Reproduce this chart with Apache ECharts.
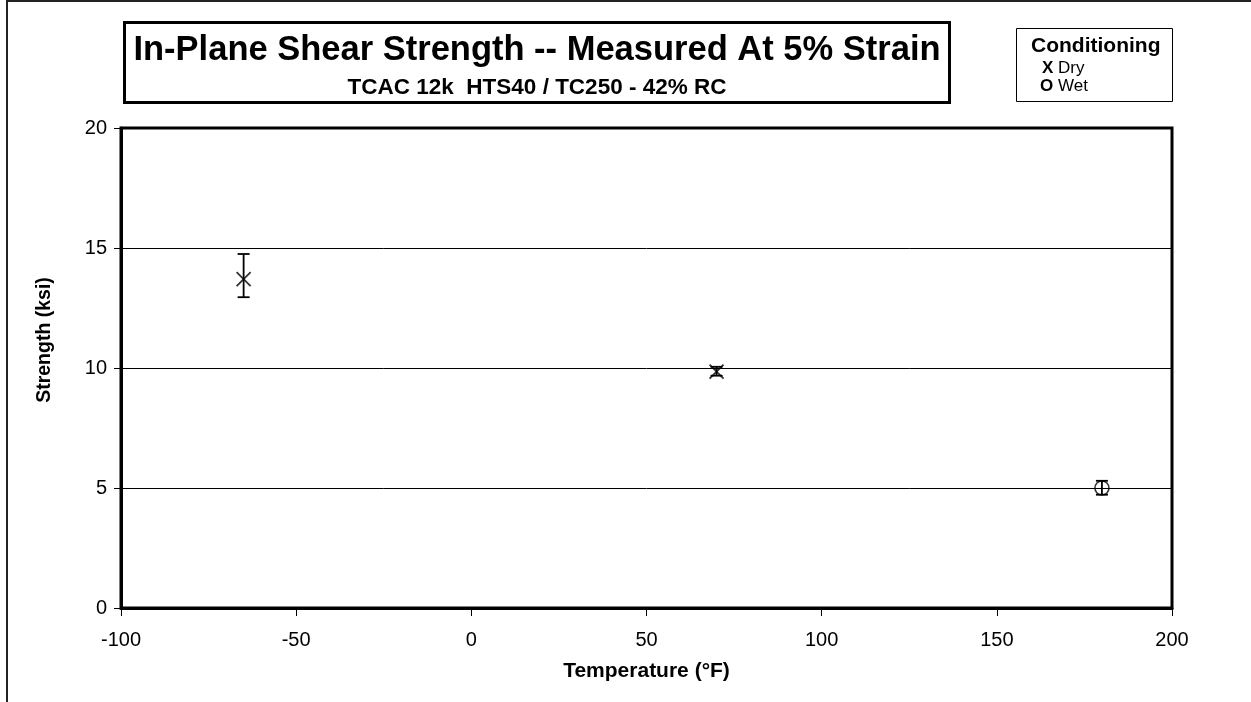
<!DOCTYPE html>
<html>
<head>
<meta charset="utf-8">
<script src="https://cdn.jsdelivr.net/npm/echarts@6/dist/echarts.min.js"></script>
<style>
html,body{margin:0;padding:0;background:#fff;}
#chart{width:1251px;height:702px;}
</style>
</head>
<body>
<div id="chart"></div>
<script>
// ---- data ----
const titleText = 'In-Plane Shear Strength -- Measured At 5% Strain';
const subtitleText = 'TCAC 12k  HTS40 / TC250 - 42% RC';
const xTicks = { min: -100, max: 200, interval: 50 };
const yTicks = { min: 0, max: 20, interval: 5 };
const dryTemp = [-65, 70];
const dryMean = [13.7, 9.85];
const dryLow = [12.95, 9.68];
const dryHigh = [14.75, 10.05];
const wetTemp = [180];
const wetMean = [5.0];
const wetLow = [4.72];
const wetHigh = [5.3];

const FONT = '"Liberation Sans", Arial, sans-serif';
const chart = echarts.init(document.getElementById('chart'), null, { renderer: 'canvas' });

const dryPts = dryTemp.map((t, i) => [t, dryMean[i]]);
const wetPts = wetTemp.map((t, i) => [t, wetMean[i]]);
const dryErr = dryTemp.map((t, i) => [t, dryLow[i], dryHigh[i]]);
const wetErr = wetTemp.map((t, i) => [t, wetLow[i], wetHigh[i]]);

function errRender(params, api) {
  const x = api.value(0);
  const lo = api.coord([x, api.value(1)]);
  const hi = api.coord([x, api.value(2)]);
  const w = 6;
  const style = { stroke: '#000', lineWidth: 1.8, fill: null };
  return {
    type: 'group',
    children: [
      { type: 'line', shape: { x1: lo[0], y1: lo[1], x2: hi[0], y2: hi[1] }, style },
      { type: 'line', shape: { x1: lo[0] - w, y1: lo[1], x2: lo[0] + w, y2: lo[1] }, style },
      { type: 'line', shape: { x1: hi[0] - w, y1: hi[1], x2: hi[0] + w, y2: hi[1] }, style }
    ]
  };
}

const option = {
  backgroundColor: '#fff',
  animation: false,
  title: [{
    text: titleText,
    subtext: subtitleText,
    left: 537, top: 33,
    textAlign: 'center',
    padding: 0,
    itemGap: 8,
    textStyle: { fontFamily: FONT, fontWeight: 'bold', fontSize: 34.5, color: '#000' },
    subtextStyle: { fontFamily: FONT, fontWeight: 'bold', fontSize: 22.5, color: '#000' }
  }],
  graphic: [
    { type: 'rect', shape: { x: 7, y: 1, width: 1400, height: 900 }, style: { fill: null, stroke: '#222', lineWidth: 2 }, silent: true, z: -10 },
    { type: 'rect', shape: { x: 124.5, y: 22.5, width: 825, height: 80 }, style: { fill: null, stroke: '#000', lineWidth: 3 }, z: -5 },
    { type: 'rect', shape: { x: 1016.5, y: 28.5, width: 156, height: 73 }, style: { fill: '#fff', stroke: '#000', lineWidth: 1 } },
    { type: 'text', left: 1031, top: 36, style: { text: 'Conditioning', font: 'bold 21px ' + FONT, fill: '#000' } },
    { type: 'text', left: 1042, top: 60, style: { text: '{b|X} Dry', font: '17px ' + FONT, fill: '#000', rich: { b: { fontWeight: 'bold', fontSize: 17, fontFamily: FONT } } } },
    { type: 'text', left: 1040, top: 78, style: { text: '{b|O} Wet', font: '17px ' + FONT, fill: '#000', rich: { b: { fontWeight: 'bold', fontSize: 17, fontFamily: FONT } } } }
  ],
  grid: { left: 121, top: 128, right: 79, bottom: 94, show: true, borderColor: '#000', borderWidth: 3, backgroundColor: 'transparent' },
  xAxis: {
    type: 'value', min: xTicks.min, max: xTicks.max, interval: xTicks.interval,
    name: 'Temperature (°F)', nameLocation: 'middle', nameGap: 53,
    nameTextStyle: { fontFamily: FONT, fontWeight: 'bold', fontSize: 21, color: '#000' },
    axisLine: { show: true, onZero: false, lineStyle: { color: '#000', width: 3 } },
    axisTick: { show: true, length: 8, lineStyle: { color: '#000', width: 1 } },
    axisLabel: { fontFamily: FONT, fontSize: 20, color: '#000', margin: 22 },
    splitLine: { show: false }
  },
  yAxis: {
    type: 'value', min: yTicks.min, max: yTicks.max, interval: yTicks.interval,
    name: 'Strength (ksi)', nameLocation: 'middle', nameGap: 66, nameRotate: 90,
    nameTextStyle: { fontFamily: FONT, fontWeight: 'bold', fontSize: 19.5, color: '#000', padding: [0, 0, 0, 56] },
    axisLine: { show: true, onZero: false, lineStyle: { color: '#000', width: 3 } },
    axisTick: { show: true, length: 7, lineStyle: { color: '#000', width: 1 } },
    axisLabel: { fontFamily: FONT, fontSize: 20, color: '#000', margin: 14 },
    splitLine: { show: true, lineStyle: { color: '#000', width: 1 } }
  },
  series: [
    { name: 'Dry err', type: 'custom', renderItem: errRender, data: dryErr, z: 3 },
    { name: 'Wet err', type: 'custom', renderItem: errRender, data: wetErr, z: 3 },
    {
      name: 'Dry', type: 'scatter', data: dryPts,
      symbol: 'path://M0,0L10,10M10,0L0,10', symbolSize: 14,
      itemStyle: { color: 'rgba(0,0,0,0)', borderColor: '#000', borderWidth: 1.8 }, z: 4
    },
    {
      name: 'Wet', type: 'scatter', data: wetPts,
      symbol: 'circle', symbolSize: 14,
      itemStyle: { color: 'rgba(0,0,0,0)', borderColor: '#000', borderWidth: 1.6 }, z: 4
    }
  ]
};
chart.setOption(option);
</script>
</body>
</html>
